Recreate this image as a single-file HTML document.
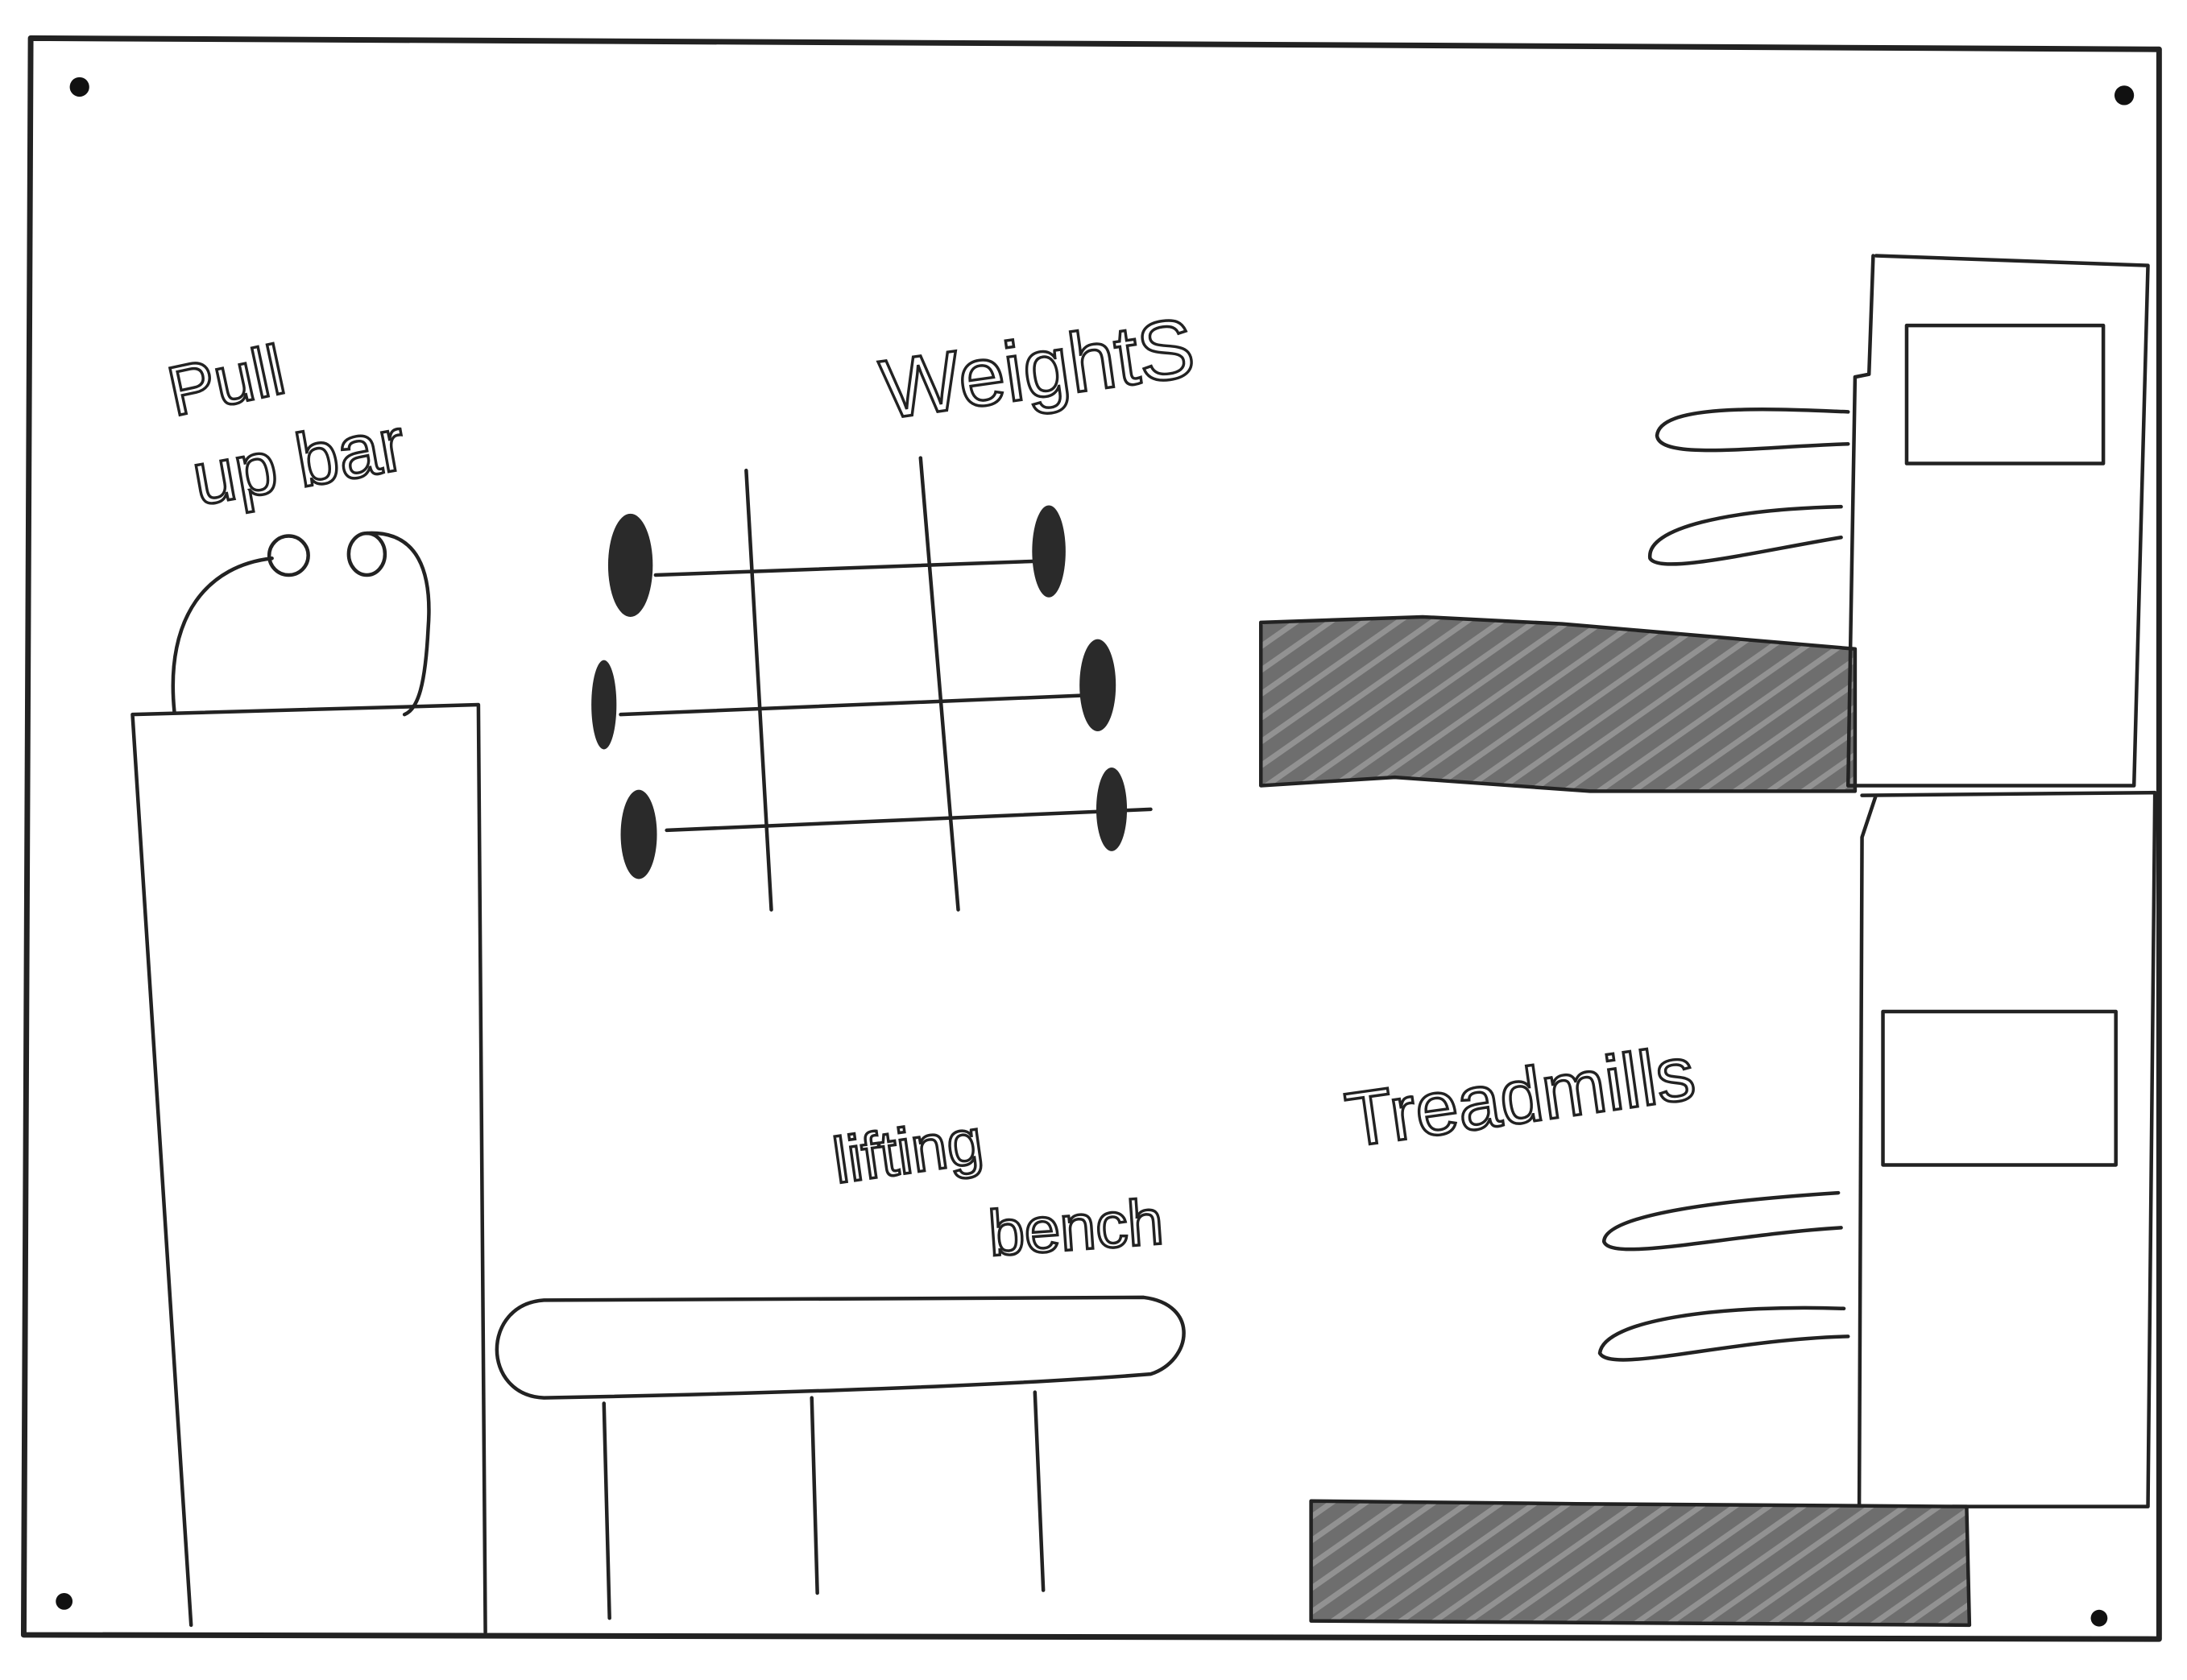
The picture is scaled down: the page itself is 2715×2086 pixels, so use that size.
<!DOCTYPE html>
<html><head><meta charset="utf-8"><style>
html,body{margin:0;padding:0;background:#fff;}
svg{display:block;}
text{font-family:"Liberation Sans",sans-serif;fill:none;stroke:#222;stroke-width:2;}
</style></head><body>
<svg width="2715" height="2086" viewBox="0 0 1568 1204" xmlns="http://www.w3.org/2000/svg">
<defs>
<pattern id="hatch" width="14" height="14" patternUnits="userSpaceOnUse" patternTransform="rotate(-35)">
<rect width="14" height="14" fill="#6e6e6e"/>
<rect width="14" height="4" fill="#929292"/>
</pattern>
</defs>
<rect width="1568" height="1204" fill="#fff"/>
<g fill="none" stroke="#222" stroke-width="2.6" stroke-linecap="round" stroke-linejoin="round">
<path d="M22,27 L1548,35 L1548,1175 L17,1172 Z" stroke-width="4"/>
<path d="M95,512 L343,505 L348,1170 M95,512 L137,1165"/>
<path d="M125,510 C118,440 150,405 195,400"/>
<circle cx="207" cy="398" r="14"/>
<ellipse cx="263" cy="397" rx="13" ry="15"/>
<path d="M263,382 C300,380 310,410 307,450 C305,490 300,508 290,512"/>
<path d="M535,337 L553,652 M660,328 L687,652"/>
<path d="M470,412 L745,402"/>
<path d="M445,512 L785,498"/>
<path d="M478,595 L825,580"/>
<g fill="#2a2a2a" stroke="none">
<ellipse cx="452" cy="405" rx="16" ry="37"/>
<ellipse cx="752" cy="395" rx="12" ry="33"/>
<ellipse cx="433" cy="505" rx="9" ry="32"/>
<ellipse cx="787" cy="491" rx="13" ry="33"/>
<ellipse cx="458" cy="598" rx="13" ry="32"/>
<ellipse cx="797" cy="580" rx="11" ry="30"/>
</g>
<path d="M390,932 L820,930 C860,935 855,975 825,985 C700,995 500,1000 390,1002 C345,1000 345,935 390,932 Z"/>
<path d="M433,1006 L437,1160 M582,1002 L586,1142 M742,998 L748,1140"/>
<path d="M904,446 L1020,442 L1120,447 L1330,465 L1330,567 L1140,567 L1000,557 L904,563 Z" fill="url(#hatch)"/>
<path d="M1345,183 L1540,190 L1530,563 L1325,563 M1343,183 L1340,268 L1330,270 L1325,563"/>
<rect x="1367" y="233" width="141" height="99"/>
<path d="M1325,295 C1260,292 1190,290 1188,312 C1190,330 1260,320 1325,318"/>
<path d="M1320,363 C1240,365 1180,378 1183,400 C1190,412 1260,395 1320,385"/>
<path d="M1335,570 L1545,568 L1540,1080 L1400,1080 M1345,570 L1335,600 L1333,1080"/>
<rect x="1350" y="725" width="167" height="110"/>
<path d="M1318,855 C1240,860 1150,870 1150,890 C1155,905 1240,885 1320,880"/>
<path d="M1322,938 C1240,935 1150,945 1147,970 C1155,985 1240,960 1325,958"/>
<path d="M940,1076 L1130,1078 L1410,1080 L1412,1165 L940,1162 Z" fill="url(#hatch)"/>
</g>
<g fill="#111">
<circle cx="57" cy="62" r="7"/>
<circle cx="1523" cy="68" r="7"/>
<circle cx="46" cy="1148" r="6"/>
<circle cx="1505" cy="1160" r="6"/>
</g>
<text x="125" y="298" font-size="50" transform="rotate(-12 125 298)">Pull</text>
<text x="142" y="362" font-size="54" transform="rotate(-10 142 362)">up bar</text>
<text x="635" y="300" font-size="60" transform="rotate(-8 635 300)">WeightS</text>
<text x="600" y="848" font-size="46" transform="rotate(-8 600 848)">lifting</text>
<text x="710" y="900" font-size="46" transform="rotate(-4 710 900)">bench</text>
<text x="968" y="822" font-size="55" transform="rotate(-8 968 822)">Treadmills</text>
</svg>
</body></html>
